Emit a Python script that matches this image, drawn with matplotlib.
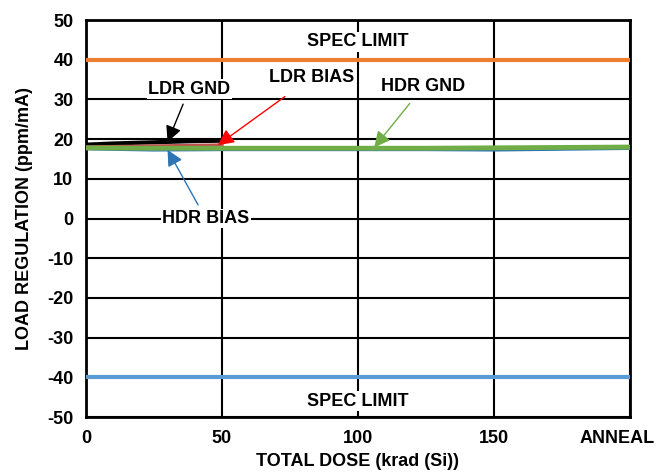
import numpy as np
import matplotlib.pyplot as plt
import matplotlib.transforms as mtransforms

plt.rcParams['font.family'] = ['Liberation Sans', 'DejaVu Sans']
plt.rcParams['font.weight'] = 'bold'
plt.rcParams['axes.unicode_minus'] = False

# datos
dose_ldr = [0, 10, 20, 30, 40, 50]
ldr_gnd = [18.6, 18.9, 19.1, 19.3, 19.5, 19.6]
ldr_bias = [18.0, 18.1, 18.2, 18.3, 18.4, 18.5]
dose_hdr = [0, 25, 50, 75, 100, 125, 150, 175, 200]
hdr_bias = [17.6, 17.3, 17.4, 17.4, 17.4, 17.4, 17.3, 17.5, 17.7]
hdr_gnd = [17.8, 17.7, 17.7, 17.7, 17.7, 17.7, 17.8, 17.9, 18.0]
spec_hi = 40
spec_lo = -40
xticks = [0, 50, 100, 150, 200]
xlabels = ['0', '50', '100', '150', 'ANNEAL']

fs = 13

fig = plt.figure(figsize=(6.68, 4.72), dpi=100)
ax = fig.add_axes([0.1287, 0.1165, 0.8143, 0.8411])

ax.axhline(spec_hi, color='#ed7d31', lw=3, zorder=3)
ax.axhline(spec_lo, color='#5b9bd5', lw=3, zorder=3)

ax.plot(dose_ldr, ldr_gnd, color='black', lw=3, zorder=4)
ax.plot(dose_ldr, ldr_bias, color='#c0504d', lw=2.5, zorder=4)
ax.plot(dose_hdr, hdr_bias, color='#2e75b6', lw=2.5, zorder=4)
ax.plot(dose_hdr, hdr_gnd, color='#70ad47', lw=3.5, zorder=5)

ax.set_xlim(0, 200)
ax.set_ylim(-50, 50)
ax.set_xticks(xticks)
ax.set_xticklabels(xlabels)
ax.set_yticks(np.arange(-50, 51, 10))
ax.grid(True, color='black', lw=1.5)
ax.tick_params(length=0, labelsize=fs, pad=9)
for s in ax.spines.values():
    s.set_linewidth(2)

# ANNEAL un poco a la izquierda, como en el original
lbl = ax.get_xticklabels()[-1]
lbl.set_transform(lbl.get_transform() + mtransforms.ScaledTranslation(-0.13, 0, fig.dpi_scale_trans))

ax.set_xlabel('TOTAL DOSE (krad (Si))', fontsize=fs, fontweight='bold', labelpad=5)
ax.set_ylabel('LOAD REGULATION (ppm/mA)', fontsize=fs, fontweight='bold', labelpad=10)

box = dict(facecolor='white', edgecolor='none', pad=1)
ax.text(100, 44.5, 'SPEC LIMIT', ha='center', va='center', fontsize=fs, fontweight='bold', bbox=box)
ax.text(100, -46, 'SPEC LIMIT', ha='center', va='center', fontsize=fs, fontweight='bold', bbox=box)

ax.annotate('LDR GND', xy=(30, 19.3), xytext=(38, 32.6), ha='center', va='center',
            fontsize=fs, fontweight='bold', bbox=box, zorder=6,
            arrowprops=dict(arrowstyle='-|>', color='black', lw=1, mutation_scale=24, shrinkA=4, shrinkB=0))
ax.annotate('LDR BIAS', xy=(48.5, 18.5), xytext=(83, 35.6), ha='center', va='center',
            fontsize=fs, fontweight='bold', zorder=6,
            arrowprops=dict(arrowstyle='-|>', color='red', lw=1, mutation_scale=24, shrinkA=10, shrinkB=0))
ax.annotate('HDR GND', xy=(106, 17.9), xytext=(124, 33.2), ha='center', va='center',
            fontsize=fs, fontweight='bold', zorder=6,
            arrowprops=dict(arrowstyle='-|>', color='#70ad47', lw=1, mutation_scale=24, shrinkA=5, shrinkB=0))
ax.annotate('HDR BIAS', xy=(30, 17.3), xytext=(44, 0), ha='center', va='center',
            fontsize=fs, fontweight='bold', bbox=box, zorder=6,
            arrowprops=dict(arrowstyle='-|>', color='#2e75b6', lw=1, mutation_scale=24, shrinkA=3, shrinkB=0))

fig.savefig('out.png', dpi=100)
